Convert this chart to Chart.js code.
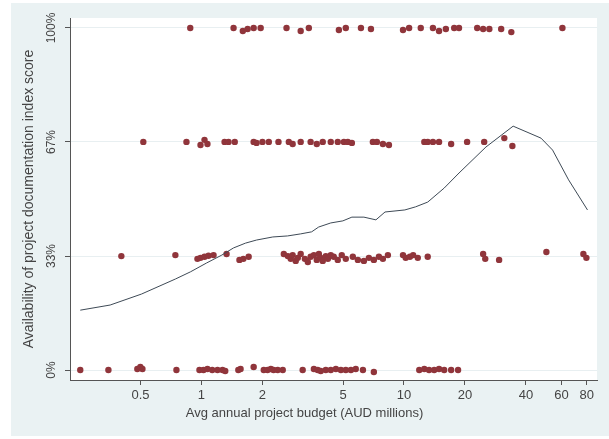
<!DOCTYPE html>
<html>
<head>
<meta charset="utf-8">
<script src="https://cdn.jsdelivr.net/npm/chart.js@4.4.1/dist/chart.umd.min.js"></script>
<style>
  html, body { margin: 0; padding: 0; background: #fff; }
  canvas { display: block; }
</style>
</head>
<body>
<canvas id="chart" width="609" height="439"></canvas>
<script>
// budget (AUD millions) and index score for each project, one list per score level
var budget100 = [0.88, 1.44, 1.60, 1.69, 1.81, 1.96, 2.63, 3.09, 3.39, 4.77, 5.16, 6.13, 6.87, 9.89, 10.6, 12.1, 13.9, 14.9, 16.1, 17.7, 18.7, 23.0, 24.6, 26.4, 30.2, 33.9, 60.6];
var score100 = [1, 1, 0.991, 0.997, 1, 1, 1, 0.991, 1, 0.994, 1, 1, 0.997, 0.994, 1, 1, 1, 0.991, 0.997, 1, 1, 1, 0.997, 0.997, 0.997, 0.988, 1];

var budget67 = [0.516, 0.843, 0.989, 1.035, 1.07, 1.30, 1.36, 1.46, 1.81, 1.87, 2.00, 2.15, 2.40, 2.70, 2.82, 3.09, 3.46, 3.71, 3.97, 4.35, 4.71, 5.05, 5.28, 5.53, 7.02, 7.35, 7.87, 8.43, 12.6, 13.1, 13.9, 14.9, 17.1, 20.5, 24.9, 31.3, 34.3];
var score67 = [0.667, 0.667, 0.658, 0.673, 0.661, 0.667, 0.667, 0.667, 0.667, 0.664, 0.667, 0.667, 0.667, 0.667, 0.661, 0.667, 0.667, 0.661, 0.667, 0.667, 0.667, 0.667, 0.667, 0.664, 0.667, 0.667, 0.661, 0.658, 0.667, 0.667, 0.667, 0.667, 0.661, 0.667, 0.667, 0.678, 0.655];

var budget33 = [0.402, 0.743, 0.955, 0.989, 1.035, 1.083, 1.147, 1.33, 1.54, 1.61, 1.71, 2.55, 2.67, 2.76, 2.82, 2.92, 2.99, 3.09, 3.24, 3.35, 3.46, 3.59, 3.71, 3.80, 3.88, 3.97, 4.11, 4.21, 4.35, 4.50, 4.71, 4.93, 5.16, 5.59, 5.92, 6.34, 6.71, 7.10, 7.52, 7.87, 8.33, 9.89, 10.2, 10.7, 11.1, 11.7, 13.1, 24.6, 25.2, 29.5, 50.5, 76.9, 79.6];
var score33 = [0.333, 0.336, 0.325, 0.328, 0.331, 0.334, 0.336, 0.339, 0.322, 0.325, 0.331, 0.339, 0.333, 0.325, 0.336, 0.319, 0.328, 0.339, 0.325, 0.316, 0.331, 0.336, 0.322, 0.339, 0.328, 0.319, 0.333, 0.325, 0.336, 0.331, 0.322, 0.336, 0.325, 0.331, 0.322, 0.319, 0.328, 0.322, 0.331, 0.325, 0.336, 0.336, 0.328, 0.331, 0.336, 0.328, 0.331, 0.339, 0.325, 0.322, 0.345, 0.339, 0.328];

var budget0 = [0.252, 0.347, 0.482, 0.499, 0.511, 0.752, 0.977, 1.023, 1.07, 1.13, 1.20, 1.27, 1.31, 1.52, 1.56, 1.81, 2.03, 2.12, 2.20, 2.27, 2.38, 2.52, 3.16, 3.59, 3.75, 3.88, 4.11, 4.35, 4.61, 4.88, 5.16, 5.47, 5.78, 6.27, 7.10, 11.9, 12.6, 13.3, 14.1, 14.9, 15.8, 17.1, 18.5];
var score0 = [0, 0, 0.003, 0.009, 0.003, 0, 0, 0, 0.003, 0, 0, 0, -0.003, 0, 0.003, 0.009, 0, 0, 0.003, 0, 0, 0, 0, 0.003, 0, -0.003, 0, 0, 0.003, 0, 0, 0, 0.003, 0, -0.006, 0, 0.003, 0, 0, 0.003, 0, 0, 0];

// smoothed fit
var fitBudget = [0.252, 0.354, 0.505, 0.743, 0.882, 1.06, 1.26, 1.44, 1.65, 1.87, 2.25, 2.66, 3.09, 3.50, 3.79, 4.35, 4.99, 5.53, 6.34, 7.27, 8.06, 10.1, 11.4, 13.1, 15.8, 18.7, 25.4, 34.6, 47.5, 54.2, 65.0, 80.6];
var fitScore = [0.175, 0.190, 0.222, 0.266, 0.287, 0.313, 0.336, 0.357, 0.371, 0.380, 0.389, 0.392, 0.398, 0.404, 0.418, 0.430, 0.436, 0.447, 0.447, 0.439, 0.462, 0.468, 0.477, 0.491, 0.532, 0.576, 0.652, 0.713, 0.678, 0.643, 0.556, 0.468];

var xTicks = [0.5, 1, 2, 5, 10, 20, 40, 60, 80];
var yTicks = [0, 1 / 3, 2 / 3, 1];
var yTickLabels = ['0%', '33%', '67%', '100%'];

function toPoints(xs, ys) {
  return xs.map(function (x, i) { return { x: x, y: ys[i] }; });
}

var scatterPts = toPoints(budget100, score100)
  .concat(toPoints(budget67, score67))
  .concat(toPoints(budget33, score33))
  .concat(toPoints(budget0, score0));

var font = 'Liberation Sans, Arial, sans-serif';

var backdrop = {
  id: 'backdrop',
  beforeDraw: function (chart) {
    var c = chart.ctx, a = chart.chartArea;
    c.save();
    c.fillStyle = '#ffffff';
    c.fillRect(0, 0, chart.width, chart.height);
    c.fillStyle = '#eaf2f3';
    c.fillRect(11, 3, chart.width - 11, chart.height - 6);
    c.fillStyle = '#ffffff';
    c.fillRect(a.left, a.top, a.right - a.left, a.bottom - a.top);
    c.restore();
  }
};

var ctx = document.getElementById('chart').getContext('2d');

var myChart = new Chart(ctx, {
  type: 'scatter',
  data: {
    datasets: [{
      label: 'fit',
      data: toPoints(fitBudget, fitScore),
      showLine: true,
      borderColor: '#3e4a56',
      borderWidth: 1,
      pointRadius: 0,
      fill: false,
      tension: 0
    }, {
      label: 'projects',
      data: scatterPts,
      backgroundColor: '#90353b',
      borderColor: '#90353b',
      borderWidth: 0,
      pointRadius: 3.2
    }]
  },
  options: {
    responsive: false,
    animation: false,
    layout: { padding: { left: 0, top: 18, right: 0, bottom: 18 } },
    plugins: {
      legend: { display: false },
      tooltip: { enabled: false },
      title: {
        display: true,
        position: 'bottom',
        text: 'Avg annual project budget (AUD millions)',
        color: '#444',
        font: { family: font, size: 13, weight: 'normal' },
        padding: 0
      }
    },
    scales: {
      x: {
        type: 'logarithmic',
        min: 0.2242,
        max: 89.8,
        afterBuildTicks: function (scale) {
          scale.ticks = xTicks.map(function (v) { return { value: v }; });
        },
        afterFit: function (scale) { scale.height = 25.4; },
        ticks: {
          color: '#444',
          font: { family: font, size: 13 },
          padding: 3,
          maxRotation: 0,
          autoSkip: false,
          callback: function (v) { return String(v); }
        },
        grid: { drawOnChartArea: false, tickColor: '#555', tickLength: 5 },
        border: { color: '#555', width: 1 }
      },
      y: {
        min: -0.0292,
        max: 1.0292,
        afterBuildTicks: function (scale) {
          scale.ticks = yTicks.map(function (v) { return { value: v }; });
        },
        afterFit: function (scale) { scale.width = 70; },
        ticks: {
          color: '#444',
          font: { family: font, size: 12 },
          minRotation: 90,
          maxRotation: 90,
          crossAlign: 'center',
          padding: -2,
          callback: function (v, i) { return yTickLabels[i]; }
        },
        grid: { color: '#e8eff1', tickColor: '#555', tickLength: 5 },
        border: { color: '#555', width: 1 },
        title: {
          display: true,
          text: 'Availability of project documentation index score',
          color: '#444',
          font: { family: font, size: 14 },
          padding: { top: 21, bottom: 0 }
        }
      },
      // empty right margin so the x title centres on the whole graph
      yRight: {
        position: 'right',
        display: true,
        afterFit: function (scale) { scale.width = 12; },
        ticks: { display: false },
        grid: { display: false },
        border: { display: false }
      }
    }
  },
  plugins: [backdrop]
});
</script>
</body>
</html>
